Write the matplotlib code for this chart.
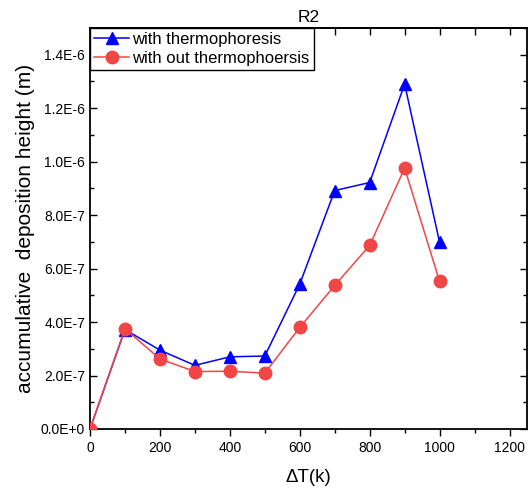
import numpy as np
import matplotlib.pyplot as plt
from matplotlib.ticker import MultipleLocator, FuncFormatter

plt.rcParams['font.family'] = ['Liberation Sans', 'DejaVu Sans']

dT = [0, 100, 200, 300, 400, 500, 600, 700, 800, 900, 1000]
hWith = [0.0, 3.72e-7, 2.95e-7, 2.38e-7, 2.70e-7, 2.73e-7, 5.42e-7, 8.92e-7, 9.22e-7, 1.29e-6, 6.98e-7]
hWithout = [0.0, 3.75e-7, 2.62e-7, 2.15e-7, 2.16e-7, 2.09e-7, 3.80e-7, 5.37e-7, 6.87e-7, 9.76e-7, 5.52e-7]

def sci_fmt(v, pos):
    if v == 0:
        return '0.0E+0'
    e = int(np.floor(np.log10(abs(v)) + 1e-9))
    m = v / 10 ** e
    return '{:.1f}E{}'.format(m, e)

fig = plt.figure(figsize=(5.29, 4.97), dpi=100)
ax = fig.add_axes([90/529, 1-429/497, 437/529, 401/497])

ax.plot(dT, hWith, color='#0000FF', linewidth=1.1, marker='^', markersize=9,
        label='with thermophoresis', zorder=2)
ax.plot(dT, hWithout, color='#F04646', linewidth=1.1, marker='o', markersize=9,
        label='with out thermophoersis', zorder=3)

ax.set_xlim(0, 1250)
ax.set_ylim(0, 1.5e-6)
ax.xaxis.set_major_locator(MultipleLocator(200))
ax.xaxis.set_minor_locator(MultipleLocator(100))
ax.yaxis.set_major_locator(MultipleLocator(2e-7))
ax.yaxis.set_minor_locator(MultipleLocator(1e-7))
ax.yaxis.set_major_formatter(FuncFormatter(sci_fmt))

ax.tick_params(axis='x', which='both', direction='out', top=False, labelsize=10)
ax.tick_params(axis='y', which='both', direction='in', right=True, labelsize=10)
ax.tick_params(which='major', length=5, width=1)
ax.tick_params(which='minor', length=3, width=1)
# top axis ticks pointing into the frame
secx = ax.secondary_xaxis('top')
secx.xaxis.set_major_locator(MultipleLocator(100))
secx.tick_params(direction='in', length=5, width=1, labeltop=False)
for s in ax.spines.values():
    s.set_linewidth(1.3)
secx.spines['top'].set_linewidth(1.3)

ax.set_xlabel('ΔT(k)', fontsize=13.5, labelpad=10)
ax.set_ylabel('accumulative  deposition height (m)', fontsize=15, labelpad=4)
ax.set_title('R2', fontsize=12.5, pad=4)

leg = ax.legend(loc='upper left', fontsize=12, borderaxespad=0, fancybox=False,
                edgecolor='black', framealpha=1, handlelength=2.1, borderpad=0.25,
                labelspacing=0.2, handletextpad=0.2)
leg.get_frame().set_linewidth(1)

fig.savefig('out.png', dpi=100)
